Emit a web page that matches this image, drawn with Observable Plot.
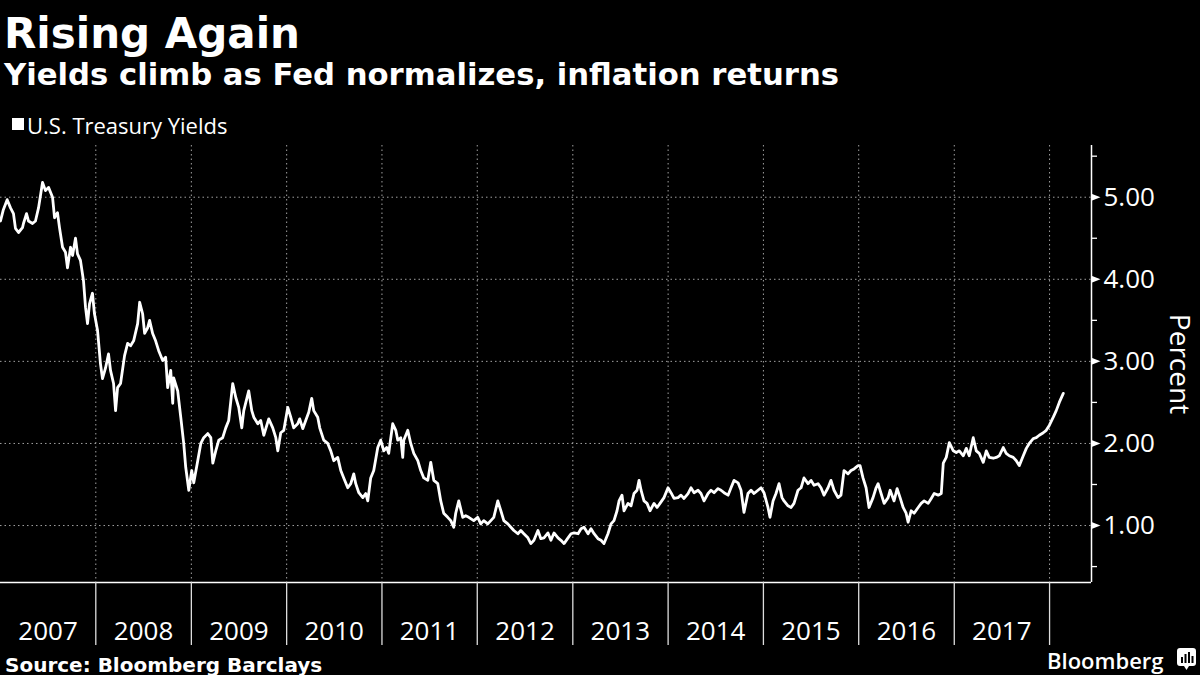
<!DOCTYPE html>
<html><head><meta charset="utf-8">
<script src="https://cdn.jsdelivr.net/npm/d3@7"></script>
<script src="https://cdn.jsdelivr.net/npm/@observablehq/plot@0.6"></script>
<style>
html,body{margin:0;padding:0;background:#000;width:1200px;height:675px;overflow:hidden;}
body{position:relative;color:#fff;}
.t{position:absolute;white-space:nowrap;line-height:1;color:#fff;}
</style></head><body>
<div class="t" style="left:4px;top:9px;font:bold 42px 'DejaVu Sans';">Rising Again</div>
<div class="t" style="left:4px;top:57px;font:bold 30.7px 'DejaVu Sans';">Yields climb as Fed normalizes, inflation returns</div>
<div class="t" style="left:12px;top:118px;width:12px;height:12px;background:#fff;"></div>
<div class="t" style="left:27px;top:110px;font:22px 'Open Sans';">U.S. Treasury Yields</div>
<div id="chart" style="position:absolute;left:0;top:140px;"></div>
<div class="t" style="left:5px;top:653px;font:bold 20px 'DejaVu Sans';">Source: Bloomberg Barclays</div>
<div class="t" style="left:1047px;top:645px;font:600 22px 'Open Sans';">Bloomberg</div>
<svg style="position:absolute;left:1177px;top:648px" width="20" height="23" viewBox="0 0 20 23">
  <path d="M3 0 H16 Q19 0 19 3 V15 Q19 18 16 18 H12 L9.5 22 L7 18 H3 Q0 18 0 15 V3 Q0 0 3 0 Z" fill="#fff"/>
  <rect x="4" y="9" width="2" height="6" fill="#000"/>
  <rect x="7.5" y="6" width="2" height="9" fill="#000"/>
  <rect x="11" y="4" width="2" height="11" fill="#000"/>
  <rect x="14.5" y="8" width="2" height="7" fill="#000"/>
</svg>
<script>
// Decimal year of each reading
const seriesYears = [
2007.000,2007.028,2007.070,2007.105,2007.136,2007.157,2007.189,2007.231,2007.241,2007.273,
2007.294,2007.336,2007.367,2007.399,2007.441,2007.472,2007.504,2007.546,2007.567,2007.598,
2007.619,2007.651,2007.682,2007.703,2007.735,2007.756,2007.787,2007.808,2007.839,2007.871,
2007.892,2007.913,2007.934,2007.965,2007.986,2008.018,2008.049,2008.070,2008.102,2008.133,
2008.154,2008.186,2008.207,2008.228,2008.259,2008.301,2008.333,2008.364,2008.396,2008.438,
2008.459,2008.490,2008.511,2008.543,2008.563,2008.595,2008.626,2008.658,2008.700,2008.731,
2008.752,2008.784,2008.805,2008.815,2008.857,2008.889,2008.920,2008.941,2008.973,2009.004,
2009.025,2009.067,2009.099,2009.130,2009.172,2009.204,2009.225,2009.256,2009.288,2009.329,
2009.361,2009.392,2009.434,2009.466,2009.497,2009.529,2009.550,2009.602,2009.634,2009.655,
2009.697,2009.728,2009.760,2009.812,2009.854,2009.886,2009.907,2009.938,2009.970,2010.012,
2010.043,2010.074,2010.116,2010.137,2010.169,2010.200,2010.232,2010.263,2010.284,2010.326,
2010.347,2010.389,2010.431,2010.463,2010.494,2010.536,2010.568,2010.599,2010.641,2010.673,
2010.704,2010.725,2010.757,2010.799,2010.830,2010.851,2010.882,2010.914,2010.956,2010.987,
2011.019,2011.050,2011.071,2011.113,2011.145,2011.166,2011.197,2011.218,2011.229,2011.271,
2011.302,2011.334,2011.376,2011.407,2011.439,2011.481,2011.512,2011.544,2011.586,2011.617,
2011.648,2011.690,2011.722,2011.753,2011.774,2011.806,2011.848,2011.879,2011.911,2011.963,
2012.005,2012.037,2012.068,2012.110,2012.142,2012.173,2012.215,2012.247,2012.278,2012.320,
2012.352,2012.383,2012.425,2012.456,2012.488,2012.530,2012.561,2012.593,2012.635,2012.666,
2012.698,2012.740,2012.771,2012.803,2012.845,2012.876,2012.908,2012.950,2012.981,2013.013,
2013.055,2013.086,2013.118,2013.160,2013.191,2013.223,2013.264,2013.296,2013.327,2013.369,
2013.401,2013.432,2013.464,2013.485,2013.516,2013.537,2013.579,2013.611,2013.642,2013.674,
2013.695,2013.716,2013.747,2013.779,2013.810,2013.852,2013.884,2013.915,2013.957,2013.999,
2014.030,2014.062,2014.104,2014.135,2014.167,2014.209,2014.240,2014.272,2014.314,2014.345,
2014.377,2014.419,2014.450,2014.482,2014.524,2014.555,2014.587,2014.629,2014.660,2014.692,
2014.734,2014.765,2014.796,2014.838,2014.870,2014.901,2014.943,2014.975,2015.006,2015.048,
2015.069,2015.101,2015.132,2015.164,2015.195,2015.216,2015.258,2015.290,2015.321,2015.363,
2015.395,2015.426,2015.468,2015.500,2015.531,2015.573,2015.604,2015.636,2015.678,2015.709,
2015.741,2015.783,2015.814,2015.846,2015.888,2015.919,2015.951,2015.993,2016.014,2016.045,
2016.077,2016.108,2016.150,2016.182,2016.203,2016.234,2016.266,2016.308,2016.329,2016.370,
2016.402,2016.433,2016.465,2016.496,2016.517,2016.549,2016.580,2016.622,2016.654,2016.685,
2016.727,2016.759,2016.790,2016.832,2016.864,2016.885,2016.916,2016.948,2016.990,2017.021,
2017.053,2017.095,2017.126,2017.157,2017.199,2017.231,2017.262,2017.304,2017.336,2017.367,
2017.409,2017.441,2017.472,2017.514,2017.545,2017.577,2017.619,2017.651,2017.682,2017.724,
2017.756,2017.787,2017.829,2017.860,2017.892,2017.934,2017.965,2017.997,2018.039,2018.070,
2018.102,2018.144
];
// Yield, percent
const seriesYields = [
4.71,4.84,4.97,4.87,4.80,4.62,4.57,4.63,4.68,4.80,
4.71,4.68,4.71,4.87,5.18,5.08,5.12,5.00,4.75,4.81,
4.63,4.39,4.33,4.14,4.39,4.29,4.50,4.31,4.23,3.98,
3.66,3.46,3.70,3.83,3.58,3.38,2.97,2.79,2.92,3.09,
2.89,2.73,2.40,2.68,2.73,3.07,3.22,3.19,3.25,3.46,
3.72,3.58,3.34,3.41,3.50,3.34,3.25,3.13,3.01,3.05,
2.68,2.89,2.49,2.80,2.64,2.32,2.00,1.71,1.43,1.67,
1.52,1.79,2.00,2.07,2.12,2.07,1.76,1.91,2.04,2.07,
2.19,2.28,2.73,2.56,2.44,2.19,2.40,2.64,2.40,2.32,
2.24,2.28,2.10,2.30,2.19,2.07,1.91,2.13,2.16,2.44,
2.32,2.19,2.24,2.30,2.18,2.28,2.38,2.55,2.40,2.32,
2.19,2.04,2.00,1.91,1.79,1.83,1.67,1.58,1.46,1.51,
1.63,1.51,1.40,1.34,1.39,1.30,1.58,1.67,1.95,2.04,
1.91,1.95,1.88,2.24,2.16,2.04,2.07,1.83,2.04,2.16,
2.00,1.88,1.79,1.67,1.58,1.55,1.77,1.55,1.51,1.30,
1.15,1.10,1.06,0.98,1.15,1.30,1.10,1.12,1.10,1.06,
1.10,1.02,1.06,1.02,1.06,1.10,1.30,1.18,1.06,1.02,
0.98,0.94,0.90,0.94,0.90,0.85,0.78,0.82,0.94,0.84,
0.85,0.91,0.82,0.91,0.85,0.82,0.78,0.85,0.90,0.91,
0.90,0.96,0.98,0.90,0.96,0.90,0.84,0.82,0.78,0.90,
1.02,1.06,1.18,1.30,1.37,1.18,1.27,1.24,1.39,1.43,
1.55,1.43,1.30,1.27,1.18,1.27,1.22,1.27,1.34,1.46,
1.40,1.33,1.34,1.37,1.33,1.39,1.46,1.40,1.43,1.39,
1.30,1.39,1.43,1.40,1.45,1.43,1.40,1.37,1.46,1.55,
1.52,1.43,1.16,1.39,1.43,1.39,1.43,1.46,1.40,1.22,
1.10,1.30,1.39,1.51,1.34,1.30,1.24,1.22,1.27,1.43,
1.46,1.58,1.51,1.55,1.49,1.51,1.46,1.37,1.46,1.55,
1.43,1.34,1.37,1.67,1.63,1.67,1.69,1.73,1.73,1.58,
1.46,1.22,1.34,1.46,1.51,1.39,1.27,1.34,1.43,1.30,
1.45,1.34,1.22,1.15,1.04,1.18,1.15,1.22,1.27,1.30,
1.27,1.33,1.39,1.37,1.39,1.76,1.83,2.01,1.91,1.89,
1.91,1.85,1.94,1.85,2.07,1.91,1.88,1.77,1.91,1.83,
1.82,1.83,1.85,1.95,1.88,1.85,1.83,1.79,1.73,1.85,
1.94,2.00,2.06,2.07,2.10,2.13,2.16,2.22,2.32,2.40,
2.50,2.61
];
const yearLabels = [2007,2008,2009,2010,2011,2012,2013,2014,2015,2016,2017];
const yearBoundaries = [2008,2009,2010,2011,2012,2013,2014,2015,2016,2017,2018];
const yTickValues = [1,2,3,4,5];
const yMinorValues = [0.5,1.5,2.5,3.5,4.5,5.5];
const xDomainYears = [2007.0, 2018.44];
const yDomain = [0.306, 5.63];
const axisTitle = "Percent";

function decToDate(t){
  const y = Math.floor(t), s = Date.UTC(y,0,1), e = Date.UTC(y+1,0,1);
  return new Date(s + (t - y) * (e - s));
}
const data = seriesYears.map((t,i) => ({date: decToDate(t), value: seriesYields[i]}));
const yearStarts = yearBoundaries.map(y => new Date(Date.UTC(y,0,1)));
const yearMids = yearLabels.map(y => new Date(Date.UTC(y,6,2)));
const xStart = decToDate(xDomainYears[0]);
const xEnd = decToDate(xDomainYears[1]);
const triangle = {draw(ctx){ ctx.moveTo(0,-3.5); ctx.lineTo(9,0); ctx.lineTo(0,3.5); ctx.closePath(); }};
const dotted = {stroke:"#a0a0a0", strokeOpacity:1, strokeWidth:1, strokeDasharray:"1.5,3"};

const chart = Plot.plot({
  width:1200, height:510, marginTop:5, marginBottom:68, marginLeft:0, marginRight:109,
  style:{background:"#000", color:"#fff", fontFamily:"'Open Sans'", overflow:"visible"},
  x:{type:"utc", domain:[xStart, xEnd], axis:null, label:null},
  y:{domain:yDomain, axis:null, label:null},
  marks:[
    Plot.gridY(yTickValues, dotted),
    Plot.gridX(yearStarts, dotted),
    Plot.ruleY([yDomain[0]], {stroke:"#fff", strokeWidth:1.5}),
    Plot.ruleX([xEnd], {stroke:"#fff", strokeWidth:1.5}),
    Plot.axisX(yearStarts, {tickSize:63, tickFormat:() => "", stroke:"#ddd", strokeWidth:1.3, label:null}),
    Plot.axisX(yearMids, {tickSize:0, tickPadding:39, tickFormat:d => String(d.getUTCFullYear()), fontSize:26, fill:"#fff", label:null}),
    Plot.axisY(yMinorValues, {anchor:"right", tickSize:5, tickFormat:() => "", stroke:"#fff", strokeWidth:1.3, label:null}),
    Plot.dot(yTickValues, {x:() => xEnd, y:d => d, symbol:triangle, fill:"#fff", stroke:null}),
    Plot.axisY(yTickValues, {anchor:"right", tickSize:0, tickPadding:12, tickFormat:d => d.toFixed(2), fontSize:26, fill:"#fff", label:null}),
    Plot.text([axisTitle], {text:d => d, frameAnchor:"right", dx:87, rotate:90, textAnchor:"middle", fontSize:28, fill:"#fff"}),
    Plot.line(data, {x:"date", y:"value", stroke:"#fff", strokeWidth:2.8, strokeLinejoin:"round"})
  ]
});
document.getElementById("chart").appendChild(chart);
</script>
</body></html>
